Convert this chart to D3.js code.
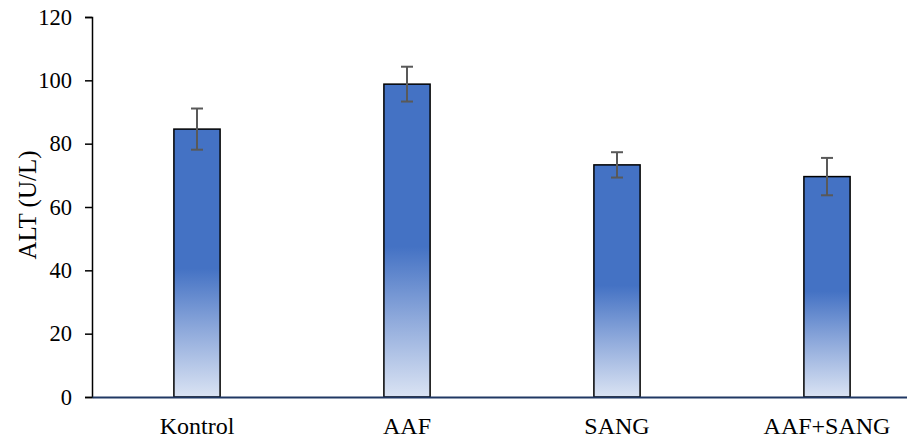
<!DOCTYPE html>
<html>
<head>
<meta charset="utf-8">
<script src="https://cdn.jsdelivr.net/npm/d3@7"></script>
<style>
  body { margin: 0; background: #fff; }
</style>
</head>
<body>
<div id="chart"></div>
<script>
var groups = ['Kontrol', 'AAF', 'SANG', 'AAF+SANG'],
    means = [84.6, 98.8, 73.3, 69.6],
    errors = [6.5, 5.5, 4.0, 5.9],
    yTicks = [0, 20, 40, 60, 80, 100, 120];

var serif = "Liberation Serif, DejaVu Serif, serif";

var width = 907,
    height = 443,
    margin = {top: 17, right: -25, bottom: 46, left: 92},
    innerWidth = width - margin.left - margin.right,
    innerHeight = height - margin.top - margin.bottom;

var xScale = d3.scaleBand()
      .domain(groups)
      .range([0, innerWidth])
      .paddingInner(0.78)
      .paddingOuter(0.39),
    yScale = d3.scaleLinear()
      .domain([0, 120])
      .range([innerHeight, 0]);

var svg = d3.select("#chart").append("svg")
    .attr("width", width)
    .attr("height", height)
    .attr("font-family", serif);

var defs = svg.append("defs");
var grad = defs.append("linearGradient")
    .attr("id", "barGrad")
    .attr("x1", 0).attr("y1", 0).attr("x2", 0).attr("y2", 1);
grad.append("stop").attr("offset", "0").attr("stop-color", "#4472C4");
grad.append("stop").attr("offset", "0.52").attr("stop-color", "#4472C4");
grad.append("stop").attr("offset", "0.75").attr("stop-color", "#8EA9DB");
grad.append("stop").attr("offset", "1").attr("stop-color", "#DAE3F3");

var g = svg.append("g")
    .attr("transform", "translate(" + margin.left + "," + margin.top + ")");

// y axis
var yAxis = d3.axisLeft(yScale).tickValues(yTicks).tickSize(7).tickPadding(13);
var ya = g.append("g").attr("class", "axis axis-y").call(yAxis)
    .attr("font-family", serif);
ya.select(".domain").attr("stroke", "#000").attr("stroke-width", 1.5);
ya.selectAll(".tick line").attr("stroke", "#000").attr("stroke-width", 1.5);
ya.selectAll(".tick text")
    .attr("fill", "#000")
    .attr("font-family", serif)
    .attr("font-size", 22.5);

// bars
g.selectAll(".bar")
  .data(groups).enter()
  .append("rect")
    .attr("class", "bar")
    .attr("x", function(d){ return xScale(d); })
    .attr("y", function(d, i){ return yScale(means[i]); })
    .attr("width", xScale.bandwidth())
    .attr("height", function(d, i){ return innerHeight - yScale(means[i]); })
    .attr("fill", "url(#barGrad)")
    .attr("stroke", "#000")
    .attr("stroke-width", 1.5);

// error bars
var eb = g.selectAll(".err")
  .data(groups).enter()
  .append("g")
    .attr("class", "err")
    .attr("stroke", "#595959")
    .attr("stroke-width", 2);
eb.append("line")
    .attr("x1", function(d){ return xScale(d) + xScale.bandwidth() / 2; })
    .attr("x2", function(d){ return xScale(d) + xScale.bandwidth() / 2; })
    .attr("y1", function(d, i){ return yScale(means[i] + errors[i]); })
    .attr("y2", function(d, i){ return yScale(means[i] - errors[i]); });
[1, -1].forEach(function(s){
  eb.append("line")
      .attr("x1", function(d){ return xScale(d) + xScale.bandwidth() / 2 - 6; })
      .attr("x2", function(d){ return xScale(d) + xScale.bandwidth() / 2 + 6; })
      .attr("y1", function(d, i){ return yScale(means[i] + s * errors[i]); })
      .attr("y2", function(d, i){ return yScale(means[i] + s * errors[i]); });
});

// x axis
var xAxis = d3.axisBottom(xScale).tickSize(0).tickPadding(20);
var xa = g.append("g")
    .attr("class", "axis axis-x")
    .attr("transform", "translate(0," + innerHeight + ")")
    .call(xAxis)
    .attr("font-family", serif);
xa.select(".domain").attr("stroke", "#203864").attr("stroke-width", 2);
xa.selectAll(".tick text")
    .attr("fill", "#000")
    .attr("font-family", serif)
    .attr("font-size", 24);

// y title
svg.append("text")
    .attr("transform", "translate(36," + (margin.top + 188) + ") rotate(-90)")
    .attr("text-anchor", "middle")
    .attr("fill", "#000")
    .attr("font-family", serif)
    .attr("font-size", 25)
    .text("ALT (U/L)");
</script>
</body>
</html>
